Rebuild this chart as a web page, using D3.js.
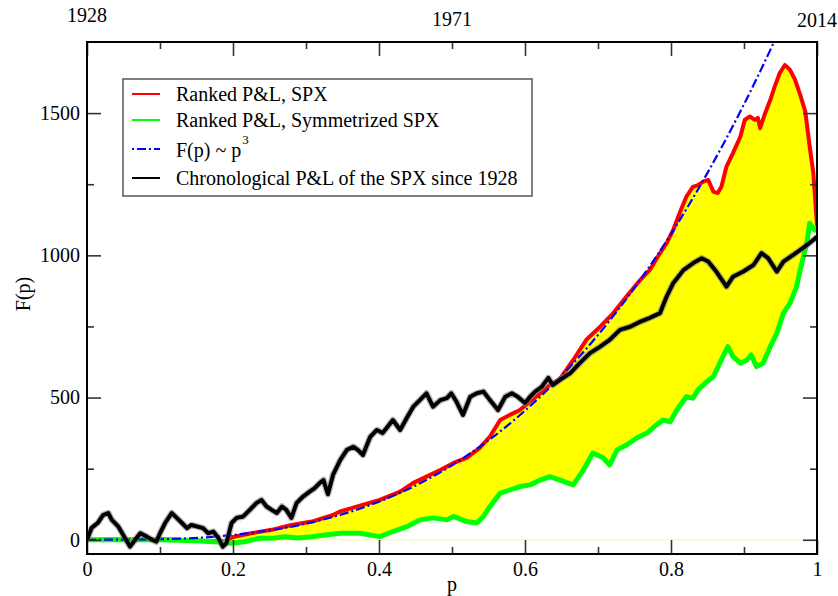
<!DOCTYPE html>
<html><head><meta charset="utf-8">
<script src="https://cdn.jsdelivr.net/npm/d3@7"></script>
<style>
html,body{margin:0;padding:0;background:#fff;}
svg text{font-family:"Liberation Serif","Times New Roman",serif;fill:#000;}
</style></head>
<body><svg id="c" width="838" height="596"></svg>
<script>
// ---------- data ----------
const xTicks = [0, 0.2, 0.4, 0.6, 0.8, 1];
const xMinorTicks = [0.1, 0.3, 0.5, 0.7, 0.9];
const yTicks = [0, 500, 1000, 1500];
const yMinorTicks = [250, 750, 1250];
const yearLabels = ["1928", "1971", "2014"];
const yearP = [0, 0.5, 1];
const legendLabels = ["Ranked P&L, SPX", "Ranked P&L, Symmetrized SPX", "F(p) ~ p", "Chronological P&L of the SPX since 1928"];

const redP = [0,0.05,0.1,0.14,0.17,0.19,0.2,0.225,0.253,0.28,0.308,0.337,0.347,0.374,0.401,0.429,0.447,0.465,0.484,0.502,0.52,0.538,0.552,0.566,0.579,0.593,0.607,0.621,0.634,0.648,0.666,0.684,0.703,0.721,0.739,0.758,0.771,0.785,0.794,0.803,0.812,0.821,0.83,0.837,0.844,0.851,0.858,0.864,0.869,0.876,0.885,0.895,0.901,0.908,0.915,0.919,0.922,0.929,0.936,0.942,0.949,0.956,0.963,0.97,0.977,0.984,0.99,0.995,1.0];
const redV = [0,1,2,-2,-6,-4,10,23,35,52,64,87,100,120,140,169,200,222,245,270,288,323,363,421,439,456,486,515,544,566,632,703,749,797,855,914,949,1008,1043,1089,1150,1206,1241,1247,1259,1265,1224,1219,1241,1312,1360,1417,1476,1488,1476,1483,1447,1500,1546,1593,1641,1669,1652,1617,1564,1505,1382,1289,1105];

const greenP = [0,0.05,0.1,0.15,0.18,0.198,0.216,0.235,0.253,0.271,0.289,0.308,0.326,0.347,0.374,0.401,0.419,0.438,0.456,0.474,0.493,0.502,0.52,0.534,0.543,0.552,0.566,0.579,0.593,0.607,0.621,0.634,0.648,0.666,0.68,0.693,0.707,0.716,0.726,0.739,0.753,0.767,0.78,0.789,0.799,0.808,0.821,0.83,0.837,0.849,0.858,0.871,0.878,0.885,0.895,0.904,0.91,0.917,0.926,0.936,0.945,0.954,0.963,0.972,0.977,0.986,0.99,0.997,1.0];
const greenV = [0,0,0,-3,-8,-12,-7,5,5,11,6,11,17,23,23,11,29,46,70,77,70,82,64,59,82,117,164,175,187,193,210,222,210,193,245,305,288,263,316,333,358,375,404,421,415,456,503,498,527,556,573,644,679,644,621,632,650,609,621,679,727,797,832,890,949,1043,1113,1089,1100];

const blueP = [0,0.1,0.2,0.3,0.4,0.5,0.6,0.65,0.7,0.75,0.8,0.85,0.9,0.94,0.96];
const blueV = [0,2,17,57,134,262,454,577,720,886,1075,1290,1531,1744,1858];

const blackP = [0,0.0064,0.015,0.022,0.029,0.034,0.043,0.052,0.059,0.066,0.073,0.082,0.089,0.095,0.1,0.107,0.116,0.123,0.13,0.137,0.143,0.152,0.159,0.166,0.173,0.18,0.186,0.191,0.198,0.205,0.214,0.223,0.232,0.239,0.246,0.253,0.26,0.267,0.273,0.28,0.287,0.296,0.305,0.312,0.319,0.324,0.33,0.337,0.347,0.356,0.365,0.371,0.378,0.388,0.397,0.405,0.412,0.419,0.429,0.438,0.447,0.456,0.465,0.474,0.484,0.493,0.499,0.506,0.515,0.525,0.534,0.543,0.552,0.563,0.573,0.582,0.59,0.6,0.607,0.614,0.623,0.632,0.638,0.648,0.662,0.675,0.689,0.703,0.716,0.73,0.744,0.758,0.771,0.785,0.794,0.803,0.817,0.83,0.842,0.851,0.862,0.876,0.885,0.899,0.913,0.924,0.933,0.945,0.954,0.967,0.981,0.995,1.0];
const blackV = [0,42,60,87,94,70,46,6,-24,0,23,11,0,-7,23,59,94,77,59,41,52,46,41,23,29,6,-24,-12,59,77,82,105,129,140,117,105,94,117,105,77,129,152,169,182,200,210,160,228,281,316,327,316,298,362,386,375,398,421,386,428,468,491,515,468,491,498,515,486,439,503,515,521,491,456,503,515,503,481,503,521,538,569,544,562,586,621,656,679,703,738,749,767,780,797,855,902,948,972,990,978,943,890,925,943,966,1008,990,943,978,1001,1026,1054,1065];

// ---------- layout ----------
const L = 87, R = 817, T = 42, B = 554;
const FS = "20px";
const svg = d3.select("#c");
const x = d3.scaleLinear().domain([0, 1]).range([L, R]);
const y = d3.scaleLinear().domain([-50, 1750]).range([B, T]);
const zip = (P, V) => P.map((p, i) => [p, V[i]]);
const red = zip(redP, redV), green = zip(greenP, greenV), blue = zip(blueP, blueV), black = zip(blackP, blackV);
const line = d3.line().x(d => x(d[0])).y(d => y(d[1]));

svg.append("defs").append("clipPath").attr("id", "clip")
  .append("rect").attr("x", L).attr("y", T).attr("width", R - L).attr("height", B - T);
const plot = svg.append("g").attr("clip-path", "url(#clip)");

// zero baseline (thin yellow)
plot.append("path").attr("d", line([[0, 0], [1, 0]]))
  .attr("stroke", "#ffff66").attr("stroke-width", 1).attr("fill", "none");

// yellow fill between red and green
plot.append("path").attr("d", line(red.concat(green.slice().reverse())) + "Z")
  .attr("fill", "#ffff00").attr("stroke", "none");

plot.append("path").attr("d", line(red)).attr("fill", "none")
  .attr("stroke", "#ff0000").attr("stroke-width", 4).attr("stroke-linejoin", "round");
plot.append("path").attr("d", line(green)).attr("fill", "none")
  .attr("stroke", "#00ff00").attr("stroke-width", 5).attr("stroke-linejoin", "round");
plot.append("path").attr("d", d3.line().curve(d3.curveMonotoneX).x(d => x(d[0])).y(d => y(d[1]))(blue)).attr("fill", "none")
  .attr("stroke", "#0000ff").attr("stroke-width", 2.2).attr("stroke-dasharray", "9,3,2,3");
plot.append("path").attr("d", line(black)).attr("fill", "none")
  .attr("stroke", "#888").attr("stroke-opacity", 0.6).attr("stroke-width", 6.5).attr("stroke-linejoin", "round");
plot.append("path").attr("d", line(black)).attr("fill", "none")
  .attr("stroke", "#000").attr("stroke-width", 4).attr("stroke-linejoin", "round");

// ---------- axes ----------
const fmt = d => String(+(+d).toFixed(1));
function styleAxis(g) {
  g.select(".domain").remove();
  g.selectAll(".tick line").attr("stroke", "#333").attr("stroke-width", 1.6);
  g.selectAll(".tick text").style("font-size", FS).attr("fill", "#000");
}
svg.append("g").attr("transform", `translate(0,${B})`)
  .call(d3.axisBottom(x).tickValues(xTicks).tickSize(-14).tickPadding(8).tickFormat(fmt)).call(styleAxis);
svg.append("g").attr("transform", `translate(0,${B})`)
  .call(d3.axisBottom(x).tickValues(xMinorTicks).tickSize(-7).tickFormat("")).call(styleAxis);
svg.append("g").attr("transform", `translate(0,${T})`)
  .call(d3.axisTop(x).tickValues(xTicks).tickSize(-14).tickFormat("")).call(styleAxis);
svg.append("g").attr("transform", `translate(0,${T})`)
  .call(d3.axisTop(x).tickValues(xMinorTicks).tickSize(-7).tickFormat("")).call(styleAxis);
svg.append("g").attr("transform", `translate(${L},0)`)
  .call(d3.axisLeft(y).tickValues(yTicks).tickSize(-14).tickPadding(7).tickFormat(d3.format("d"))).call(styleAxis);
svg.append("g").attr("transform", `translate(${L},0)`)
  .call(d3.axisLeft(y).tickValues(yMinorTicks).tickSize(-7).tickFormat("")).call(styleAxis);
svg.append("g").attr("transform", `translate(${R},0)`)
  .call(d3.axisRight(y).tickValues(yTicks).tickSize(-14).tickFormat("")).call(styleAxis);
svg.append("g").attr("transform", `translate(${R},0)`)
  .call(d3.axisRight(y).tickValues(yMinorTicks).tickSize(-7).tickFormat("")).call(styleAxis);

svg.append("rect").attr("x", L).attr("y", T).attr("width", R - L).attr("height", B - T)
  .attr("fill", "none").attr("stroke", "#000").attr("stroke-width", 2);

// year labels on top
const yearBase = [22, 26, 27];
yearLabels.forEach((t, i) => {
  svg.append("text").attr("x", x(yearP[i])).attr("y", yearBase[i])
    .attr("text-anchor", "middle").style("font-size", FS).text(t);
});

// axis titles
svg.append("text").attr("x", x(0.5)).attr("y", 591).attr("text-anchor", "middle")
  .style("font-size", FS).text("p");
svg.append("text").attr("transform", "translate(30,294) rotate(-90)").attr("text-anchor", "middle")
  .style("font-size", FS).text("F(p)");

// ---------- legend ----------
const lg = svg.append("g");
lg.append("rect").attr("x", 123).attr("y", 79).attr("width", 409).attr("height", 117)
  .attr("fill", "#fff").attr("stroke", "#555").attr("stroke-width", 1.5);
const rowY = [94, 120, 149, 178];
const rowBase = [101, 127, 157, 185];
const legStyles = [
  {c: "#ff0000", dash: null},
  {c: "#00ff00", dash: null},
  {c: "#0000ff", dash: "2,3,9,3"},
  {c: "#000000", dash: null}
];
legendLabels.forEach((t, i) => {
  const ln = lg.append("line").attr("x1", 132).attr("x2", 160).attr("y1", rowY[i]).attr("y2", rowY[i])
    .attr("stroke", legStyles[i].c).attr("stroke-width", 2);
  if (legStyles[i].dash) ln.attr("stroke-dasharray", legStyles[i].dash);
  const tx = lg.append("text").attr("x", 176).attr("y", rowBase[i]).style("font-size", FS).text(t);
  if (i === 2) tx.append("tspan").attr("dy", -13).attr("dx", 1).style("font-size", "13px").text("3");
});
</script></body></html>
